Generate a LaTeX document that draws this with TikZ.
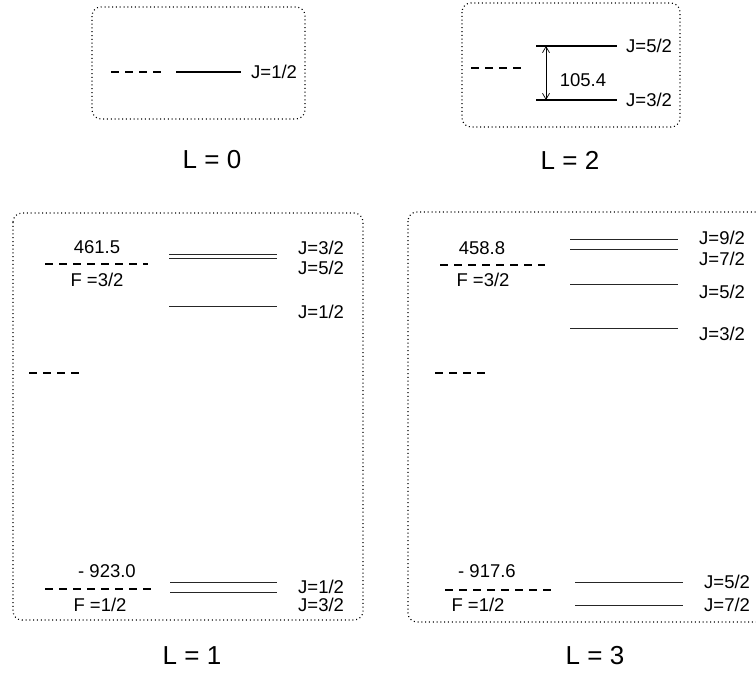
\documentclass[tikz,border=0pt]{standalone}
\usepackage{fontspec}
\setmainfont{Liberation Sans}
\usetikzlibrary{arrows.meta}
\begin{document}
\begin{tikzpicture}[x=1pt,y=-1pt,
  frame/.style={line width=1.1pt,dash pattern=on 1pt off 2.8pt,rounded corners=9pt},
  lvl/.style={line width=1.2pt},
  thin lvl/.style={line width=0.9pt,black!85},
  dlvl/.style={line width=1.1pt,dash pattern=on 8pt off 6pt},
  lab/.style={font=\fontsize{18.5}{21}\selectfont,inner sep=0pt},
  jlab/.style={lab,anchor=west},
  title/.style={font=\fontsize{26}{30}\selectfont,inner sep=0pt}]
\useasboundingbox (0,0) rectangle (756,675);
\clip (0,0) rectangle (756,675);
% ---------- L = 0 ----------
\draw[frame] (92,7) rectangle (305,119);
\draw[dlvl] (111,72) -- (163,72);
\draw[lvl] (176,72) -- (241,72);
\node[jlab] (j0) at (251,72) {J=1/2};
\node[title] (t0) at (212,160) {L = 0};
% ---------- L = 2 ----------
\draw[frame] (462,3) rectangle (680,127);
\draw[dlvl] (471,68) -- (523,68);
\coordinate (u2a) at (536,46); \coordinate (u2b) at (617,46);
\coordinate (d2a) at (536,100); \coordinate (d2b) at (617,100);
\draw[lvl] (u2a) -- (u2b);
\draw[lvl] (d2a) -- (d2b);
\coordinate (a2t) at (546,46); \coordinate (a2b) at (546,100);
\draw[line width=0.7pt,{Straight Barb[length=6pt,width=7pt]}-{Straight Barb[length=6pt,width=7pt]}] (a2t) -- (a2b);
\node[lab] (v2) at (583,80) {105.4};
\node[jlab] (j2a) at (626,46) {J=5/2};
\node[jlab] (j2b) at (626,100) {J=3/2};
\node[title] (t2) at (570,160) {L = 2};
% ---------- L = 1 ----------
\draw[frame] (13,213) rectangle (363,620);
\node[lab] (e1a) at (97,247) {461.5};
\draw[dlvl] (45,264) -- (148,264);
\node[lab] (f1a) at (97,280) {F =3/2};
\draw[thin lvl] (169,254) -- (277,254);
\draw[thin lvl] (169,258) -- (277,258);
\draw[thin lvl] (169,306) -- (277,306);
\node[jlab] (j1a) at (298,248) {J=3/2};
\node[jlab] (j1b) at (298,268) {J=5/2};
\node[jlab] (j1c) at (298,312) {J=1/2};
\draw[dlvl] (29,373) -- (81,373);
\node[lab] (e1b) at (107,571) {- 923.0};
\draw[dlvl] (45,589) -- (155,589);
\node[lab] (f1b) at (100,605) {F =1/2};
\draw[thin lvl] (170,582) -- (277,582);
\draw[thin lvl] (170,592) -- (277,592);
\node[jlab] (j1d) at (298,587) {J=1/2};
\node[jlab] (j1e) at (298,605) {J=3/2};
\node[title] (t1) at (192,656) {L = 1};
% ---------- L = 3 ----------
\draw[frame] (408,212) rectangle (775,622);
\node[lab] (e3a) at (482,248) {458.8};
\draw[dlvl] (440,265) -- (545,265);
\node[lab] (f3a) at (483,280) {F =3/2};
\draw[thin lvl] (570,239) -- (678,239);
\draw[thin lvl] (570,249) -- (678,249);
\draw[thin lvl] (570,284) -- (678,284);
\draw[thin lvl] (570,328) -- (678,328);
\node[jlab] (j3a) at (699,238) {J=9/2};
\node[jlab] (j3b) at (699,259) {J=7/2};
\node[jlab] (j3c) at (699,292) {J=5/2};
\node[jlab] (j3d) at (699,334) {J=3/2};
\draw[dlvl] (435,373) -- (487,373);
\node[lab] (e3b) at (487,571) {- 917.6};
\draw[dlvl] (445,590) -- (555,590);
\node[lab] (f3b) at (478,605) {F =1/2};
\draw[thin lvl] (575,582) -- (683,582);
\draw[thin lvl] (575,605) -- (683,605);
\node[jlab] (j3e) at (704,582) {J=5/2};
\node[jlab] (j3f) at (704,605) {J=7/2};
\node[title] (t3) at (595,656) {L = 3};
\end{tikzpicture}
\end{document}
